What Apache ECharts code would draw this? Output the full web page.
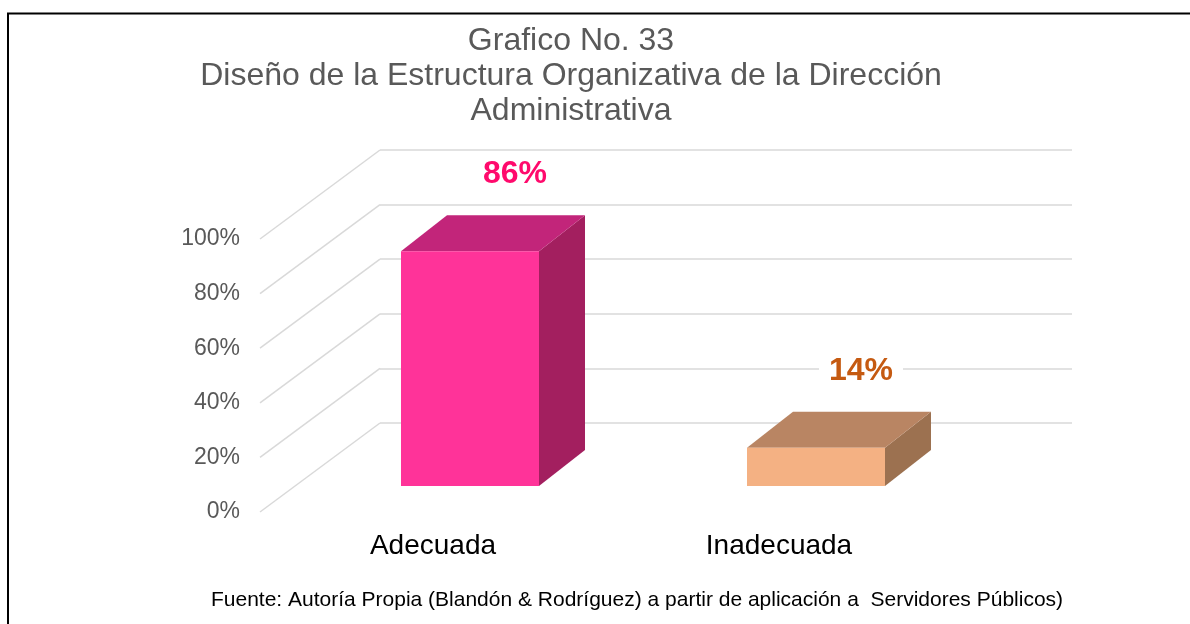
<!DOCTYPE html>
<html>
<head>
<meta charset="utf-8">
<script src="https://cdn.jsdelivr.net/npm/echarts@6/dist/echarts.min.js"></script>
<style>
  html, body { margin: 0; padding: 0; background: #ffffff; }
  #chart { width: 1190px; height: 624px; }
</style>
</head>
<body>
<div id="chart"></div>
<script>
// ---- data ----
const categories = ['Adecuada', 'Inadecuada'];
const values = [86, 14];
const yTicks = [0, 20, 40, 60, 80, 100];
const titleLines = ['Grafico No. 33', 'Diseño de la Estructura Organizativa de la Dirección', 'Administrativa'];
const sourceNote = 'Fuente: Autoría Propia (Blandón & Rodríguez) a partir de aplicación a  Servidores Públicos)';

// ---- styling ----
const FONT = '"Liberation Sans", Arial, Helvetica, sans-serif';
const faceColors = [
  { front: '#FF3399', top: '#C2257A', side: '#A31F5F', label: '#FF0A6C' },
  { front: '#F4B183', top: '#B98563', side: '#9C7150', label: '#C55A11' }
];
const GRID_COLOR = '#D9D9D9';

// oblique offset from the front plane to the back wall
const DEPTH = [120, -89];
// where each block sits inside that depth, and how deep it is
const BAR_FRONT = [37, -26];
const BAR_DEPTH = [46, -36];
const BAR_WIDTH = 138;

const chart = echarts.init(document.getElementById('chart'), null, { renderer: 'canvas' });

// side-wall gridlines: from the front-left edge back to the wall
function renderSideWall(params, api) {
  const v = api.value(1);
  const cs = params.coordSys;
  const y = api.coord([0, v])[1];
  return {
    type: 'line',
    silent: true,
    shape: { x1: cs.x, y1: y, x2: cs.x + DEPTH[0], y2: y + DEPTH[1] },
    style: { stroke: GRID_COLOR, lineWidth: 1.5 }
  };
}

// a 3D block with front, top and right faces plus its value label
function renderBlock(params, api) {
  const idx = api.value(0);
  const v = api.value(1);
  const base = api.coord([idx, 0]);
  const topPt = api.coord([idx, v]);
  const cx = base[0] + BAR_FRONT[0];
  const yb = base[1] + BAR_FRONT[1];
  const yt = topPt[1] + BAR_FRONT[1];
  const xl = cx - BAR_WIDTH / 2;
  const xr = cx + BAR_WIDTH / 2;
  const dx = BAR_DEPTH[0];
  const dy = BAR_DEPTH[1];
  const c = faceColors[idx];
  return {
    type: 'group',
    children: [
      { type: 'polygon', shape: { points: [[xr, yt], [xr + dx, yt + dy], [xr + dx, yb + dy], [xr, yb]] }, style: { fill: c.side } },
      { type: 'polygon', shape: { points: [[xl, yt], [xr, yt], [xr + dx, yt + dy], [xl + dx, yt + dy]] }, style: { fill: c.top } },
      { type: 'rect', shape: { x: xl, y: yt, width: BAR_WIDTH, height: yb - yt }, style: { fill: c.front } },
      {
        type: 'text',
        x: cx + 45,
        y: yt + dy - 41,
        style: {
          text: v + '%',
          fill: c.label,
          font: 'bold 32px ' + FONT,
          align: 'center',
          verticalAlign: 'middle',
          backgroundColor: '#ffffff',
          padding: [2, 10]
        }
      }
    ]
  };
}

const option = {
  animation: false,
  backgroundColor: '#ffffff',
  title: [
    {
      text: titleLines.join('\n'),
      left: 566,
      top: 19,
      textAlign: 'center',
      textStyle: { fontFamily: FONT, fontSize: 32, fontWeight: 'normal', color: '#595959', lineHeight: 35 }
    },
    {
      text: sourceNote,
      left: 632,
      top: 585,
      textAlign: 'center',
      textStyle: { fontFamily: FONT, fontSize: 21, fontWeight: 'normal', color: '#000000' }
    }
  ],
  graphic: [
    {
      type: 'polyline',
      silent: true,
      shape: { points: [[8, 624], [8, 13.5], [1190, 13.5]] },
      style: { stroke: '#000000', lineWidth: 2, fill: null }
    }
  ],
  grid: [
    { left: 260, top: 239, width: 692, height: 273 },   // front plane
    { left: 380, top: 150, width: 692, height: 273 }    // back wall
  ],
  xAxis: [
    {
      gridIndex: 0,
      type: 'category',
      data: categories,
      axisLine: { show: false },
      axisTick: { show: false },
      axisLabel: { fontFamily: FONT, fontSize: 28, color: '#000000', margin: 20 }
    },
    {
      gridIndex: 1,
      type: 'category',
      data: categories,
      show: false
    }
  ],
  yAxis: [
    {
      gridIndex: 0,
      type: 'value',
      min: 0,
      max: 100,
      interval: 20,
      axisLine: { show: false },
      axisTick: { show: false },
      splitLine: { show: false },
      axisLabel: { fontFamily: FONT, fontSize: 23, color: '#595959', margin: 20, padding: [5, 0, 0, 0], formatter: '{value}%' }
    },
    {
      gridIndex: 1,
      type: 'value',
      min: 0,
      max: 100,
      interval: 20,
      axisLine: { show: false },
      axisTick: { show: false },
      axisLabel: { show: false },
      splitLine: { show: true, lineStyle: { color: GRID_COLOR, width: 1.5 } }
    }
  ],
  series: [
    {
      type: 'custom',
      xAxisIndex: 0,
      yAxisIndex: 0,
      silent: true,
      renderItem: renderSideWall,
      data: yTicks.map(function (t) { return [0, t]; }),
      z: 1
    },
    {
      type: 'custom',
      xAxisIndex: 0,
      yAxisIndex: 0,
      renderItem: renderBlock,
      data: values.map(function (v, i) { return [i, v]; }),
      z: 3
    }
  ]
};

chart.setOption(option);
</script>
</body>
</html>
